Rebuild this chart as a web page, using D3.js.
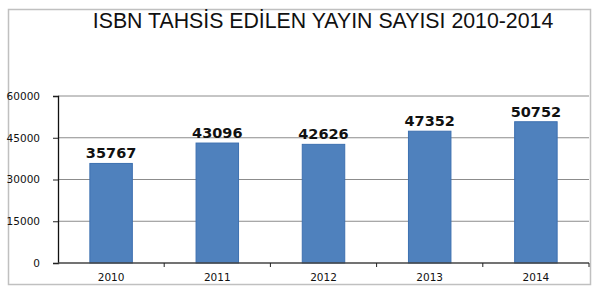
<!DOCTYPE html>
<html lang="tr">
<head>
	<meta charset="utf-8">
	<title>ISBN Tahsis Edilen Yayın Sayısı</title>
	<script src="https://d3js.org/d3.v7.min.js" charset="utf-8"></script>
	<style>
		body { margin: 0; background: #fff; }
		text { font-family: "DejaVu Sans", sans-serif; }
		text.title { font-family: "Liberation Sans", Arial, sans-serif; }
	</style>
</head>
<body>
<script>
	// chart data
	var years = ["2010", "2011", "2012", "2013", "2014"];
	var counts = [35767, 43096, 42626, 47352, 50752];
	var yTicks = [0, 15000, 30000, 45000, 60000];
	var title = "ISBN TAHSİS EDİLEN YAYIN SAYISI 2010-2014";

	var w = 600, h = 295;
	var plotLeft = 58, plotRight = 589, plotTop = 96, plotBottom = 263;

	var svg = d3.select("body").append("svg")
		.attr("width", w)
		.attr("height", h);

	// outer frame
	svg.append("rect")
		.attr("x", 8.5).attr("y", 9.5)
		.attr("width", 582).attr("height", 275)
		.attr("fill", "#fff")
		.attr("stroke", "#c0c0c0")
		.attr("stroke-width", 1.5);

	// title
	svg.append("text")
		.attr("class", "title")
		.attr("x", 323).attr("y", 28)
		.attr("text-anchor", "middle")
		.attr("font-size", 21.3)
		.attr("fill", "#111")
		.text(title);

	var x = d3.scaleBand()
		.domain(years)
		.range([plotLeft, plotRight])
		.paddingInner(0.6)
		.paddingOuter(0.3);

	var y = d3.scaleLinear()
		.domain([0, 60000])
		.range([plotBottom, plotTop]);

	// gridlines
	svg.selectAll("line.grid")
		.data(yTicks.slice(1))
		.enter().append("line")
		.attr("class", "grid")
		.attr("x1", plotLeft).attr("x2", plotRight)
		.attr("y1", function(d) { return y(d); })
		.attr("y2", function(d) { return y(d); })
		.attr("stroke", "#8c8c8c")
		.attr("stroke-width", 1);

	// bars
	svg.selectAll("rect.bar")
		.data(counts)
		.enter().append("rect")
		.attr("class", "bar")
		.attr("x", function(d, i) { return x(years[i]); })
		.attr("y", function(d) { return y(d); })
		.attr("width", x.bandwidth())
		.attr("height", function(d) { return plotBottom - y(d); })
		.attr("fill", "#4f81bd")
		.attr("stroke", "#3d70b0")
		.attr("stroke-width", 1);

	// value labels
	svg.selectAll("text.val")
		.data(counts)
		.enter().append("text")
		.attr("class", "val")
		.attr("x", function(d, i) { return x(years[i]) + x.bandwidth() / 2; })
		.attr("y", function(d) { return y(d) - 5; })
		.attr("text-anchor", "middle")
		.attr("font-weight", "bold")
		.attr("font-size", 14.5)
		.attr("fill", "#111")
		.text(function(d) { return d; });

	// y axis
	var yAxis = svg.append("g")
		.attr("transform", "translate(" + plotLeft + ",0)")
		.call(d3.axisLeft(y).tickValues(yTicks).tickSize(5).tickPadding(13).tickFormat(d3.format("d")));
	yAxis.select(".domain").attr("stroke", "#111").attr("stroke-width", 1.3);
	yAxis.selectAll(".tick line").attr("stroke", "#222");
	yAxis.selectAll("text").attr("font-size", 10.5).attr("fill", "#111");

	// x axis: ticks sit on the band boundaries
	var step = x.step();
	var bounds = d3.range(years.length + 1).map(function(i) { return plotLeft + i * step; });
	svg.append("line")
		.attr("x1", plotLeft).attr("x2", plotRight)
		.attr("y1", plotBottom).attr("y2", plotBottom)
		.attr("stroke", "#444").attr("stroke-width", 1.5);
	svg.selectAll("line.xtick")
		.data(bounds.slice(1))
		.enter().append("line")
		.attr("class", "xtick")
		.attr("x1", function(d) { return d; }).attr("x2", function(d) { return d; })
		.attr("y1", plotBottom).attr("y2", plotBottom + 4)
		.attr("stroke", "#222");
	svg.selectAll("text.xlab")
		.data(years)
		.enter().append("text")
		.attr("class", "xlab")
		.attr("x", function(d) { return x(d) + x.bandwidth() / 2; })
		.attr("y", 281)
		.attr("text-anchor", "middle")
		.attr("font-size", 10.5)
		.attr("fill", "#111")
		.text(function(d) { return d; });
</script>
</body>
</html>
